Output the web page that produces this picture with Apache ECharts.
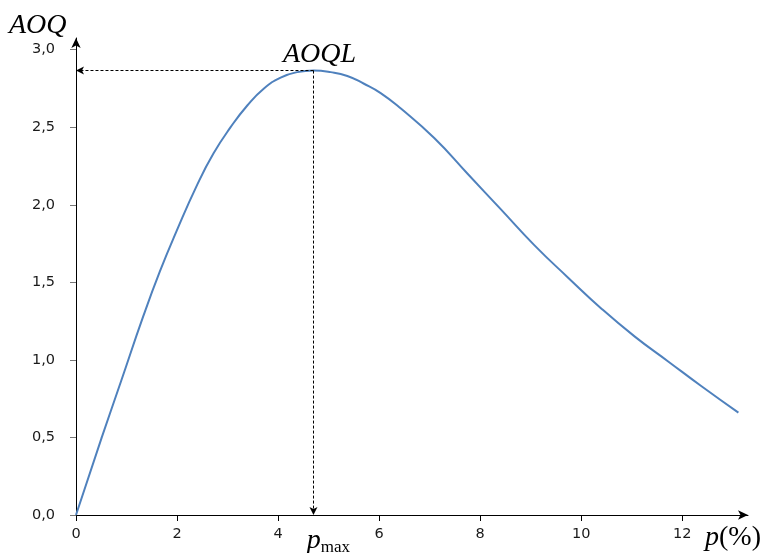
<!DOCTYPE html>
<html><head><meta charset="utf-8">
<script src="https://cdn.jsdelivr.net/npm/echarts@6/dist/echarts.min.js"></script>
<style>html,body{margin:0;padding:0;background:#fff}#c{width:767px;height:553px}</style>
</head><body><div id="c"></div>
<script>
const pValues = [0, 0.51, 0.90, 1.33, 1.66, 1.99, 2.40, 2.72, 3.06, 3.39, 3.72, 4.05, 4.38, 4.70, 5.04, 5.37, 5.70, 6.03, 6.43, 7.09, 7.75, 8.41, 9.07, 9.74, 10.40, 11.06, 11.72, 12.38, 13.11];
const aoqValues = [0, 0.50, 0.87, 1.28, 1.57, 1.83, 2.13, 2.33, 2.50, 2.64, 2.75, 2.82, 2.855, 2.865, 2.855, 2.83, 2.78, 2.72, 2.62, 2.43, 2.20, 1.97, 1.74, 1.53, 1.33, 1.15, 0.99, 0.83, 0.66];
const xTicks = [0, 2, 4, 6, 8, 10, 12];
const yTicks = [0, 0.5, 1.0, 1.5, 2.0, 2.5, 3.0];
const pMax = 4.70;
const aoql = 2.865;

const chart = echarts.init(document.getElementById('c'), null, {renderer: 'canvas'});
const serif = '"Liberation Serif", "DejaVu Serif", serif';
const lblFont = '"DejaVu Sans", Verdana, sans-serif';
chart.setOption({
  animation: false,
  backgroundColor: '#fff',
  grid: {left: 76, top: 38, right: 19, bottom: 38, containLabel: false},
  xAxis: {
    type: 'value', min: 0, max: 13.3,
    splitLine: {show: false},
    axisLine: {show: true, onZero: false, symbol: ['none', 'arrow'], symbolSize: [7, 10], lineStyle: {color: '#000', width: 1}},
    axisTick: {show: true, length: 6, customValues: xTicks, lineStyle: {color: '#000'}},
    axisLabel: {customValues: xTicks, margin: 12, color: '#1a1a1a', fontFamily: lblFont, fontSize: 14.5,
      formatter: v => String(v)}
  },
  yAxis: {
    type: 'value', min: 0, max: 3.075,
    splitLine: {show: false},
    axisLine: {show: true, onZero: false, symbol: ['none', 'arrow'], symbolSize: [7, 10], lineStyle: {color: '#000', width: 1}},
    axisTick: {show: true, length: 6, customValues: yTicks, lineStyle: {color: '#777'}},
    axisLabel: {customValues: yTicks, margin: 21, color: '#1a1a1a', fontFamily: lblFont, fontSize: 14.5,
      formatter: v => v.toFixed(1).replace('.', ',')}
  },
  series: [{
    type: 'line',
    data: pValues.map((p, i) => [p, aoqValues[i]]),
    showSymbol: false,
    smooth: 0.5,
    lineStyle: {color: '#4F81BD', width: 2},
    markLine: {
      silent: true,
      symbol: ['none', 'arrow'],
      symbolSize: [6, 8],
      label: {show: false},
      lineStyle: {color: '#000', type: [3, 2], width: 1},
      data: [
        [{coord: [pMax, aoql]}, {coord: [0, aoql]}],
        [{coord: [pMax, aoql]}, {coord: [pMax, 0]}]
      ]
    },
    markPoint: {
      silent: true,
      symbol: 'circle',
      symbolSize: 1,
      itemStyle: {color: 'rgba(0,0,0,0)'},
      data: [
        {coord: [pMax, aoql], label: {show: true, formatter: 'AOQL', position: 'top', offset: [6, 4],
          fontFamily: serif, fontStyle: 'italic', fontSize: 28, color: '#000'}},
        {coord: [pMax, 0], label: {show: true, formatter: '{a|p}{b|max}', position: 'bottom', offset: [15, 6],
          rich: {a: {fontFamily: serif, fontStyle: 'italic', fontSize: 28, color: '#000'},
                 b: {fontFamily: serif, fontSize: 17, color: '#000', verticalAlign: 'bottom', padding: [0,0,-2,0]}}}}
      ]
    }
  }],
  graphic: [
    {type: 'text', left: 9, top: 12, style: {text: 'AOQ', font: 'italic 28px "Liberation Serif", serif', fill: '#000'}},
    {type: 'text', left: 705, top: 524, style: {text: '{a|p}{b|(%)}',
      rich: {a: {font: 'italic 28px "Liberation Serif", serif', fill: '#000'},
             b: {font: '28px "Liberation Serif", serif', fill: '#000'}}}}
  ]
});
</script></body></html>
